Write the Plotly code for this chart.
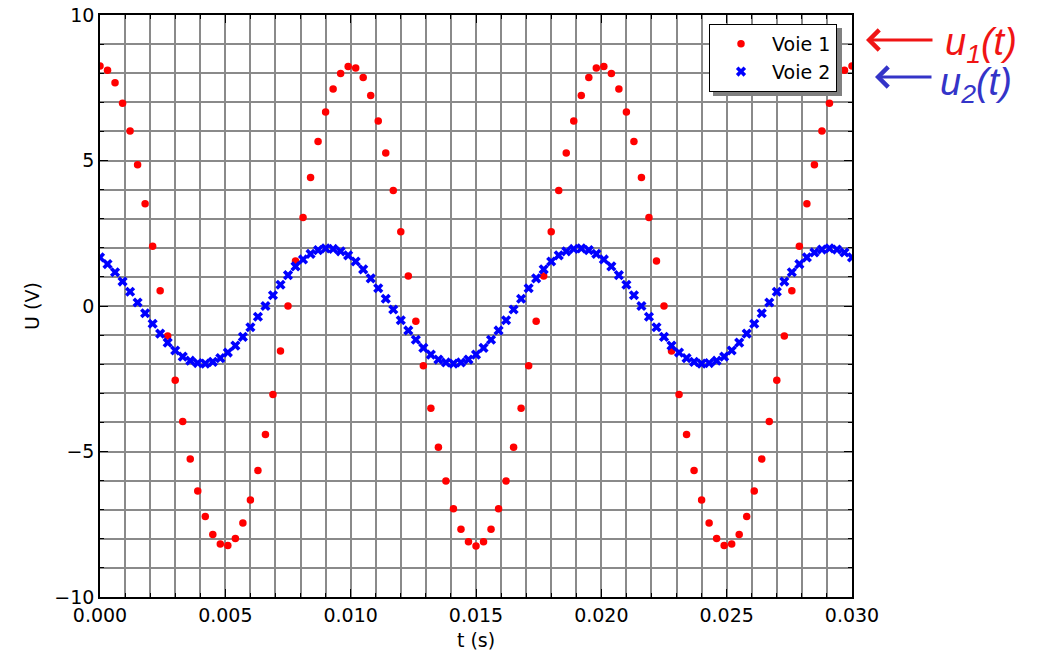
import plotly.graph_objects as go

# sample times (s)
t = [0.0000, 0.0003, 0.0006, 0.0009, 0.0012, 0.0015, 0.0018, 0.0021, 0.0024, 0.0027,
     0.0030, 0.0033, 0.0036, 0.0039, 0.0042, 0.0045, 0.0048, 0.0051, 0.0054, 0.0057,
     0.0060, 0.0063, 0.0066, 0.0069, 0.0072, 0.0075, 0.0078, 0.0081, 0.0084, 0.0087,
     0.0090, 0.0093, 0.0096, 0.0099, 0.0102, 0.0105, 0.0108, 0.0111, 0.0114, 0.0117,
     0.0120, 0.0123, 0.0126, 0.0129, 0.0132, 0.0135, 0.0138, 0.0141, 0.0144, 0.0147,
     0.0150, 0.0153, 0.0156, 0.0159, 0.0162, 0.0165, 0.0168, 0.0171, 0.0174, 0.0177,
     0.0180, 0.0183, 0.0186, 0.0189, 0.0192, 0.0195, 0.0198, 0.0201, 0.0204, 0.0207,
     0.0210, 0.0213, 0.0216, 0.0219, 0.0222, 0.0225, 0.0228, 0.0231, 0.0234, 0.0237,
     0.0240, 0.0243, 0.0246, 0.0249, 0.0252, 0.0255, 0.0258, 0.0261, 0.0264, 0.0267,
     0.0270, 0.0273, 0.0276, 0.0279, 0.0282, 0.0285, 0.0288, 0.0291, 0.0294, 0.0297,
     0.0300]

# Voie 1 (V)
voie1 = [8.25, 8.10, 7.67, 6.97, 6.01, 4.85, 3.51, 2.05, 0.52, -1.03,
         -2.55, -3.97, -5.26, -6.36, -7.23, -7.85, -8.18, -8.23, -7.99, -7.46,
         -6.67, -5.65, -4.42, -3.04, -1.55, 0.00, 1.55, 3.04, 4.42, 5.65,
         6.67, 7.46, 7.99, 8.23, 8.18, 7.85, 7.23, 6.36, 5.26, 3.97,
         2.55, 1.03, -0.52, -2.05, -3.51, -4.85, -6.01, -6.97, -7.67, -8.10,
         -8.25, -8.10, -7.67, -6.97, -6.01, -4.85, -3.51, -2.05, -0.52, 1.03,
         2.55, 3.97, 5.26, 6.36, 7.23, 7.85, 8.18, 8.23, 7.99, 7.46,
         6.67, 5.65, 4.42, 3.04, 1.55, 0.00, -1.55, -3.04, -4.42, -5.65,
         -6.67, -7.46, -7.99, -8.23, -8.18, -7.85, -7.23, -6.36, -5.26, -3.97,
         -2.55, -1.03, 0.52, 2.05, 3.51, 4.85, 6.01, 6.97, 7.67, 8.10,
         8.25]

# Voie 2 (V)
voie2 = [1.67, 1.44, 1.16, 0.84, 0.49, 0.12, -0.25, -0.61, -0.95, -1.26,
         -1.53, -1.74, -1.88, -1.96, -1.98, -1.92, -1.79, -1.60, -1.36, -1.06,
         -0.73, -0.37, 0.00, 0.37, 0.73, 1.06, 1.36, 1.60, 1.79, 1.92,
         1.98, 1.96, 1.88, 1.74, 1.53, 1.26, 0.95, 0.61, 0.25, -0.12,
         -0.49, -0.84, -1.16, -1.44, -1.67, -1.84, -1.94, -1.98, -1.94, -1.84,
         -1.67, -1.44, -1.16, -0.84, -0.49, -0.12, 0.25, 0.61, 0.95, 1.26,
         1.53, 1.74, 1.88, 1.96, 1.98, 1.92, 1.79, 1.60, 1.36, 1.06,
         0.73, 0.37, 0.00, -0.37, -0.73, -1.06, -1.36, -1.60, -1.79, -1.92,
         -1.98, -1.96, -1.88, -1.74, -1.53, -1.26, -0.95, -0.61, -0.25, 0.12,
         0.49, 0.84, 1.16, 1.44, 1.67, 1.84, 1.94, 1.98, 1.94, 1.84,
         1.67]

x_ticks = [0.000, 0.005, 0.010, 0.015, 0.020, 0.025, 0.030]
y_ticks = [-10, -5, 0, 5, 10]

FONT = "DejaVu Sans"
GRID = "#8a8a8a"
FS = 19

fig = go.Figure()
fig.add_trace(go.Scatter(
    x=t, y=voie1, mode="markers", name="Voie 1",
    marker=dict(symbol="circle", size=7.5, color="#ff0000", line=dict(width=0)),
))
fig.add_trace(go.Scatter(
    x=t, y=voie2, mode="markers", name="Voie 2",
    marker=dict(symbol="x", size=9, color="#0000ff", line=dict(width=0)),
))

axis_common = dict(
    showline=True, linecolor="black", linewidth=1.5, mirror="ticks",
    ticks="inside", ticklen=8, tickcolor="black", tickwidth=1,
    showgrid=True, gridcolor=GRID, gridwidth=1.5, zeroline=False,
    tickfont=dict(family=FONT, size=FS, color="black"),
    ticklabeloverflow="allow",
)

fig.update_xaxes(
    range=[0, 0.030], tickvals=x_ticks, tickformat=".3f",
    minor=dict(dtick=0.001, showgrid=True, gridcolor=GRID, gridwidth=1.5,
               ticks="inside", ticklen=4, tickcolor="black"),
    title=dict(text="t (s)", font=dict(family=FONT, size=FS, color="black"), standoff=9),
    **axis_common,
)
fig.update_yaxes(
    range=[-10, 10], tickvals=y_ticks,
    minor=dict(dtick=1, showgrid=True, gridcolor=GRID, gridwidth=1.5,
               ticks="inside", ticklen=4, tickcolor="black"),
    title=dict(text="U (V)", font=dict(family=FONT, size=FS, color="black"), standoff=10),
    **axis_common,
)

W, H = 1056, 660
L, T = 100, 15
pw, ph = 752, 582
R = W - L - pw
B = H - T - ph

def px(xp):
    return (xp - L) / pw

def py(yp):
    return (H - B - yp) / ph

# legend shadow
fig.add_shape(type="rect", xref="paper", yref="paper",
              x0=px(713), x1=px(842), y0=py(96), y1=py(28),
              fillcolor="#808080", line=dict(width=0), layer="above")

fig.update_layout(
    width=W, height=H,
    margin=dict(l=L, r=R, t=T, b=B, autoexpand=False),
    paper_bgcolor="white", plot_bgcolor="white",
    font=dict(family=FONT, size=FS, color="black"),
    legend=dict(x=px(709), y=py(24), xanchor="left", yanchor="top",
                bgcolor="white", bordercolor="black", borderwidth=1,
                font=dict(family=FONT, size=FS, color="black"),
                itemwidth=52),
    showlegend=True,
)

# handwritten-style annotations
RED = "#f01414"
BLUE = "#3434c8"
fig.add_annotation(xref="paper", yref="paper", x=px(866), y=py(40), ax=68, ay=0,
                   axref="pixel", ayref="pixel", text="", showarrow=True,
                   arrowhead=4, arrowsize=1.3, arrowwidth=3, arrowcolor=RED)
fig.add_annotation(xref="paper", yref="paper", x=px(943), y=py(19),
                   xanchor="left", yanchor="top",
                   text="<i>u<sub>1</sub>(t)</i>", showarrow=False,
                   font=dict(family="Liberation Sans", size=38, color=RED))
fig.add_annotation(xref="paper", yref="paper", x=px(875), y=py(77), ax=58, ay=0,
                   axref="pixel", ayref="pixel", text="", showarrow=True,
                   arrowhead=4, arrowsize=1.3, arrowwidth=3, arrowcolor=BLUE)
fig.add_annotation(xref="paper", yref="paper", x=px(938), y=py(59),
                   xanchor="left", yanchor="top",
                   text="<i>u<sub>2</sub>(t)</i>", showarrow=False,
                   font=dict(family="Liberation Sans", size=38, color=BLUE))

fig.write_html("out.html", config={"displayModeBar": False},
               post_script="document.body.style.margin='0';")
